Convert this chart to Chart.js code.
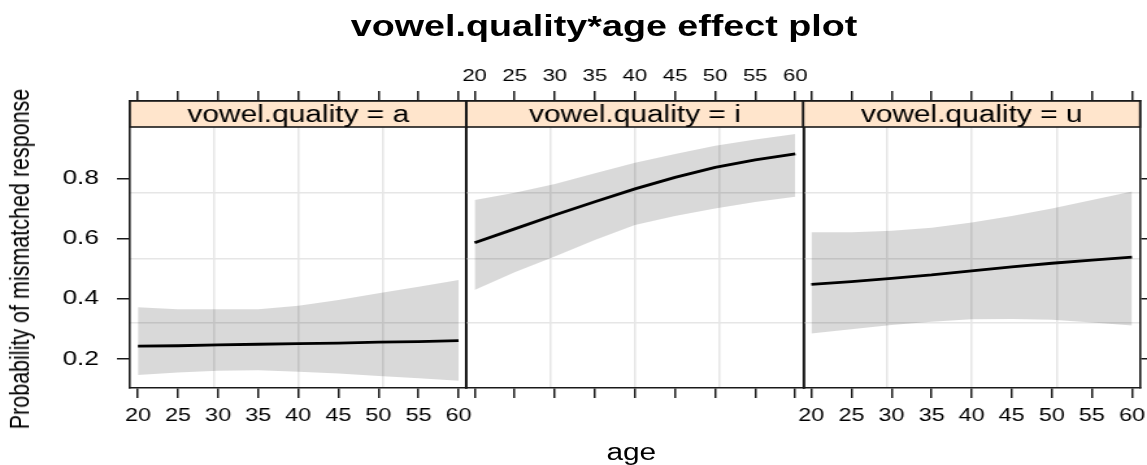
<!DOCTYPE html>
<html>
<head>
<meta charset="utf-8">
<title>vowel.quality*age effect plot</title>
<script src="https://cdn.jsdelivr.net/npm/chart.js@4.4.1/dist/chart.umd.min.js"></script>
<style>
  html, body { margin: 0; padding: 0; background: #fff; }
  body { width: 1147px; height: 465px; overflow: hidden; position: relative; }
  /* the figure is laid out 883px wide and stretched to fill the window */
  #figure {
    position: absolute; left: 0; top: 0; width: 883px; height: 465px;
    transform: scaleX(1.299); transform-origin: 0 0;
    font-family: "Liberation Sans", Arial, sans-serif; color: #000;
  }
  #figure canvas { position: absolute; left: 0; top: 0; }
  .title { position: absolute; left: 465px; top: 12px; transform: translateX(-50%);
           font-weight: bold; font-size: 29px; line-height: 29px; white-space: nowrap; }
  .xlab  { position: absolute; left: 486px; top: 441px; transform: translateX(-50%);
           font-size: 23px; line-height: 23px; white-space: nowrap; }
  .ylab  { position: absolute; left: 15px; top: 259px; transform: translate(-50%, -50%) rotate(-90deg);
           font-size: 21.5px; line-height: 22px; white-space: nowrap; }
</style>
</head>
<body>
<div id="figure">
  <div class="title">vowel.quality*age effect plot</div>
  <canvas id="panelA" width="883" height="465"></canvas>
  <canvas id="panelI" width="883" height="465"></canvas>
  <canvas id="panelU" width="883" height="465"></canvas>
  <div class="ylab">Probability of mismatched response</div>
  <div class="xlab">age</div>
</div>
<script>
// --- Effect estimates (probability of a mismatched response by age) ---
const ages = [20, 25, 30, 35, 40, 45, 50, 55, 60];

const fitA   = [0.243, 0.244, 0.247, 0.249, 0.251, 0.253, 0.256, 0.258, 0.261];
const lowerA = [0.147, 0.155, 0.161, 0.163, 0.158, 0.152, 0.144, 0.136, 0.128];
const upperA = [0.372, 0.365, 0.365, 0.365, 0.377, 0.396, 0.418, 0.440, 0.462];

const fitI   = [0.586, 0.632, 0.678, 0.722, 0.765, 0.803, 0.836, 0.861, 0.881];
const lowerI = [0.429, 0.488, 0.540, 0.595, 0.645, 0.675, 0.700, 0.721, 0.739];
const upperI = [0.728, 0.752, 0.781, 0.817, 0.852, 0.881, 0.908, 0.929, 0.947];

const fitU   = [0.448, 0.457, 0.468, 0.479, 0.493, 0.506, 0.518, 0.528, 0.538];
const lowerU = [0.285, 0.299, 0.313, 0.324, 0.332, 0.333, 0.330, 0.321, 0.311];
const upperU = [0.621, 0.621, 0.626, 0.636, 0.653, 0.675, 0.700, 0.728, 0.756];

const panelLabels = ['vowel.quality = a', 'vowel.quality = i', 'vowel.quality = u'];

// axis ticks and reference grid
const ageTicks  = [20, 25, 30, 35, 40, 45, 50, 55, 60];
const probTicks = [0.2, 0.4, 0.6, 0.8];
const ageGrid   = [29.5, 40, 50.6];
const probGrid  = [0.321, 0.534, 0.753];

// --- Layout ---
const FIG_W = 883, FIG_H = 465;
const PLOT_LEFT = 100, PANEL_W = 259.2, PLOT_TOP = 101, PLOT_BOTTOM = 388, STRIP_H = 26;
const AGE_MIN = 19, AGE_MAX = 61;
const PROB_MIN = 0.1038, PROB_MAX = 1.0566;   // top part of the range sits under the strip
const LABEL_ROOM = { left: 100, top: 40, bottom: 50 };   // space kept for tick labels
const INK = '#1a1a1a';

Chart.defaults.font.family = '"Liberation Sans", Arial, sans-serif';
Chart.defaults.color = '#000';

// strip with the panel's condition, drawn over the top of the plot area
const stripPlugin = {
    id: 'strip',
    afterDraw(chart, args, opts) {
        const { ctx, chartArea: a } = chart;
        ctx.save();
        ctx.fillStyle = '#ffe5cc';
        ctx.fillRect(a.left, a.top, a.right - a.left, opts.height);
        ctx.strokeStyle = INK;
        ctx.lineWidth = 1.6;
        ctx.strokeRect(a.left, a.top, a.right - a.left, opts.height);
        ctx.fillStyle = '#000';
        ctx.font = '23px "Liberation Sans", Arial, sans-serif';
        ctx.textAlign = 'center';
        ctx.textBaseline = 'middle';
        ctx.fillText(opts.text, (a.left + a.right) / 2, a.top + opts.height / 2 + 1.5);
        ctx.restore();
    }
};

// axes get a fixed size so the plot areas of the three panels line up
const fixSize = size => scale => {
    if (scale.isHorizontal()) scale.height = size; else scale.width = size;
    scale.paddingLeft = scale.paddingRight = scale.paddingTop = scale.paddingBottom = 0;
};
const useTicks = values => scale => { scale.ticks = values.map(v => ({ value: v })); };

function edgeAxis(position, isX, showLabels, showMarks, fontSize, pad) {
    return {
        type: 'linear',
        position: position,
        min: isX ? AGE_MIN : PROB_MIN,
        max: isX ? AGE_MAX : PROB_MAX,
        afterBuildTicks: useTicks(isX ? ageTicks : probTicks),
        afterFit: fixSize(showLabels ? LABEL_ROOM[position] : 0),
        grid: { drawOnChartArea: false, drawTicks: showMarks, tickLength: 10, color: INK, lineWidth: 1.5 },
        border: { display: true, color: INK, width: 1.6 },
        ticks: {
            display: showLabels, autoSkip: false, maxRotation: 0, padding: pad,
            font: { size: fontSize }, color: '#000',
            callback: v => isX ? String(v) : v.toFixed(1)
        }
    };
}

function gridAxis(position, isX) {
    return {
        type: 'linear',
        position: position,
        min: isX ? AGE_MIN : PROB_MIN,
        max: isX ? AGE_MAX : PROB_MAX,
        afterBuildTicks: useTicks(isX ? ageGrid : probGrid),
        afterFit: fixSize(0),
        grid: { drawTicks: false, color: '#e6e6e6', lineWidth: 1.5 },
        border: { display: false },
        ticks: { display: false }
    };
}

const points = vals => ages.map((a, i) => ({ x: a, y: vals[i] }));

function drawPanel(canvasId, idx, fit, lower, upper, show) {
    const left = PLOT_LEFT + idx * PANEL_W;
    const right = left + PANEL_W;
    return new Chart(document.getElementById(canvasId), {
        type: 'line',
        data: {
            datasets: [
                { data: points(upper), fill: '+1', backgroundColor: 'rgba(0,0,0,0.15)',
                  borderColor: 'rgba(0,0,0,0)', borderWidth: 0, pointRadius: 0, xAxisID: 'x', yAxisID: 'y' },
                { data: points(lower), fill: false,
                  borderColor: 'rgba(0,0,0,0)', borderWidth: 0, pointRadius: 0, xAxisID: 'x', yAxisID: 'y' },
                { data: points(fit), fill: false, borderColor: '#000', borderWidth: 2.8,
                  pointRadius: 0, tension: 0, xAxisID: 'x', yAxisID: 'y' }
            ]
        },
        options: {
            responsive: false,
            animation: false,
            events: [],
            layout: {
                padding: {
                    left: left - (show.left ? LABEL_ROOM.left : 0),
                    right: FIG_W - right,
                    top: PLOT_TOP - (show.top ? LABEL_ROOM.top : 0),
                    bottom: FIG_H - PLOT_BOTTOM - (show.bottom ? LABEL_ROOM.bottom : 0)
                }
            },
            scales: {
                xGrid: gridAxis('bottom', true),
                yGrid: gridAxis('left', false),
                x: edgeAxis('bottom', true, show.bottom, true, 18, 7.5),
                xTop: edgeAxis('top', true, show.top, true, 17, 4.8),
                y: edgeAxis('left', false, show.left, show.left, 20, 14),
                yRight: edgeAxis('right', false, false, show.right, 20, 4)
            },
            plugins: {
                legend: { display: false },
                tooltip: { enabled: false },
                strip: { text: panelLabels[idx], height: STRIP_H }
            }
        },
        plugins: [stripPlugin]
    });
}

drawPanel('panelA', 0, fitA, lowerA, upperA, { bottom: true,  top: false, left: true,  right: false });
drawPanel('panelI', 1, fitI, lowerI, upperI, { bottom: false, top: true,  left: false, right: false });
drawPanel('panelU', 2, fitU, lowerU, upperU, { bottom: true,  top: false, left: false, right: true });
</script>
</body>
</html>
